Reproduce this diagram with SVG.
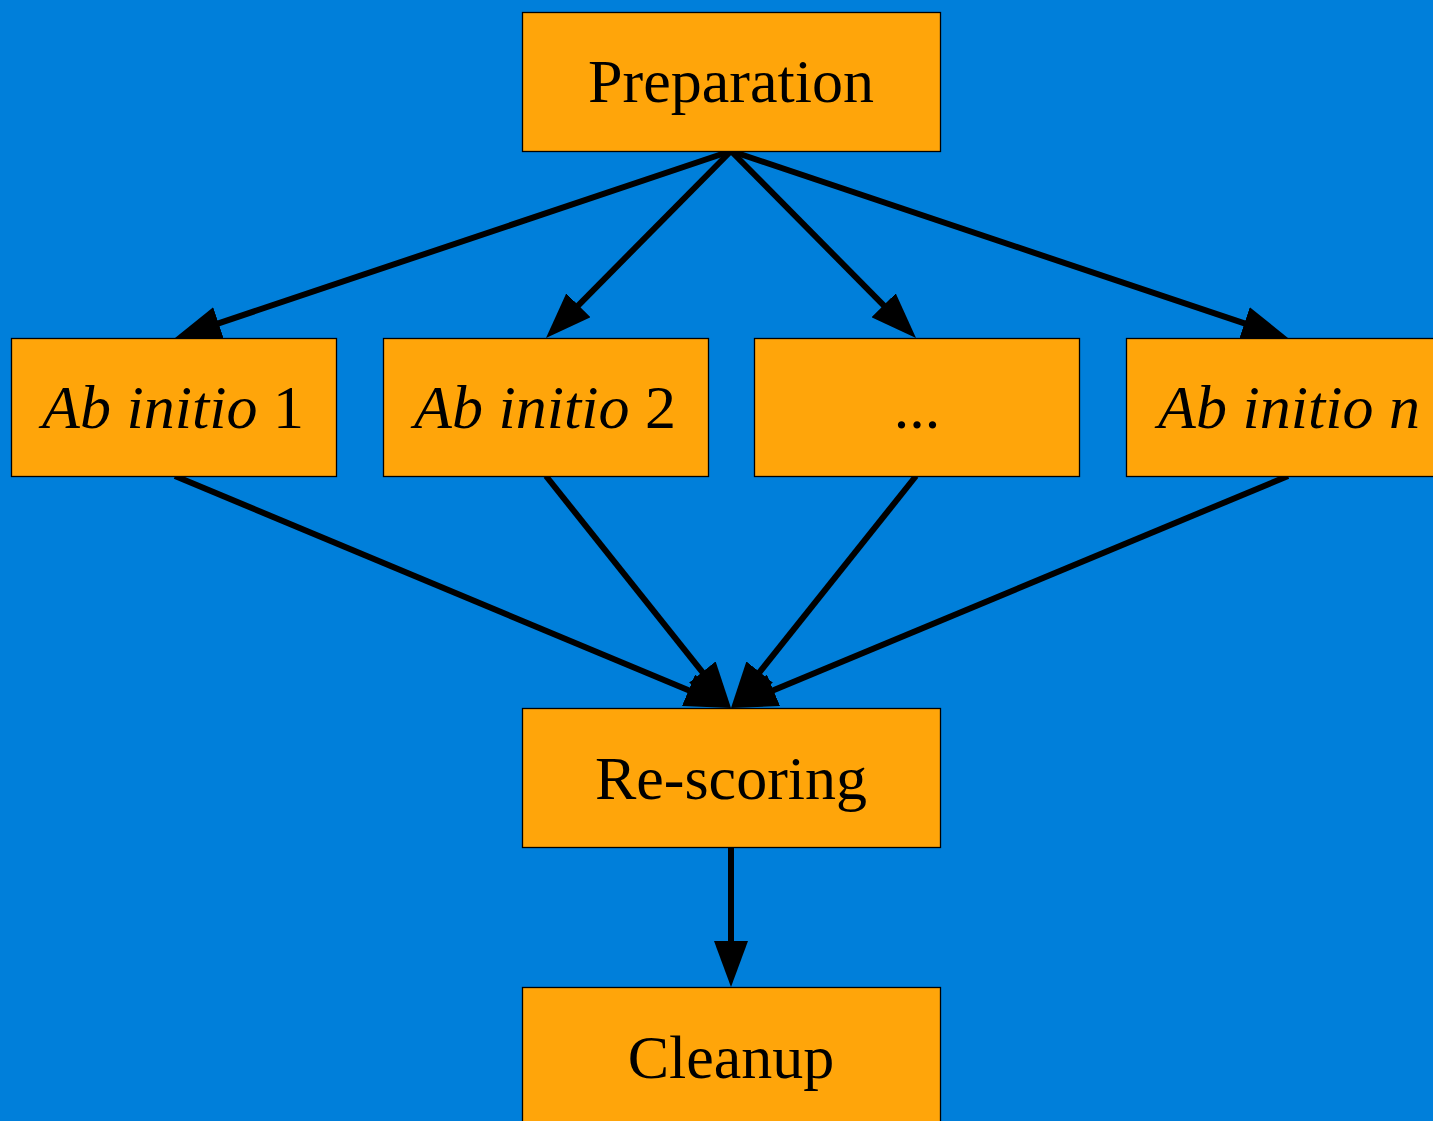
<svg xmlns="http://www.w3.org/2000/svg" width="1433" height="1121" viewBox="0 0 1433 1121">
<style>
.box{fill:#FFA50A;stroke:#000;stroke-width:1.3}
.lbl{font-family:"Liberation Serif","Times New Roman",serif;font-size:62px;fill:#000;text-anchor:middle}
.it{font-style:italic}
.edge{stroke:#000;stroke-width:6;fill:none}
</style>
<defs>
<marker id="ah" markerUnits="userSpaceOnUse" markerWidth="46" markerHeight="34" viewBox="0 0 46 34" refX="26" refY="17" orient="auto">
<path d="M0,0 L46,17 L0,34 z" fill="#000"/>
</marker>
</defs>
<rect width="1433" height="1121" fill="#007FDA"/>
<g id="edges">
<line class="edge" x1="731" y1="151" x2="193.96" y2="331.62" marker-end="url(#ah)"/>
<line class="edge" x1="731" y1="151" x2="560.06" y2="323.78" marker-end="url(#ah)"/>
<line class="edge" x1="731" y1="151" x2="901.94" y2="323.78" marker-end="url(#ah)"/>
<line class="edge" x1="731" y1="151" x2="1269.04" y2="331.64" marker-end="url(#ah)"/>
<line class="edge" x1="175" y1="476" x2="712.54" y2="700.3" marker-end="url(#ah)"/>
<line class="edge" x1="546" y1="476" x2="718.53" y2="692.36" marker-end="url(#ah)"/>
<line class="edge" x1="916" y1="476" x2="743.47" y2="692.36" marker-end="url(#ah)"/>
<line class="edge" x1="1288" y1="476" x2="749.46" y2="700.31" marker-end="url(#ah)"/>
<line class="edge" x1="731" y1="847" x2="731" y2="967" marker-end="url(#ah)"/>
</g>
<g id="preparation">
<rect class="box" x="522.5" y="12.5" width="418" height="139"/>
<text class="lbl" x="731" y="102">Preparation</text>
</g>
<g id="abinitio1">
<rect class="box" x="11.5" y="338.5" width="325" height="138"/>
<text class="lbl" x="173" y="428"><tspan class="it">Ab initio</tspan> 1</text>
</g>
<g id="abinitio2">
<rect class="box" x="383.5" y="338.5" width="325" height="138"/>
<text class="lbl" x="545" y="428"><tspan class="it">Ab initio</tspan> 2</text>
</g>
<g id="ellipsis">
<rect class="box" x="754.5" y="338.5" width="325" height="138"/>
<text class="lbl" x="917" y="428">...</text>
</g>
<g id="abinition">
<rect class="box" x="1126.5" y="338.5" width="325" height="138"/>
<text class="lbl it" x="1289" y="428">Ab initio n</text>
</g>
<g id="rescoring">
<rect class="box" x="522.5" y="708.5" width="418" height="139"/>
<text class="lbl" x="731" y="799">Re-scoring</text>
</g>
<g id="cleanup">
<rect class="box" x="522.5" y="987.5" width="418" height="139"/>
<text class="lbl" x="731" y="1078">Cleanup</text>
</g>
</svg>
